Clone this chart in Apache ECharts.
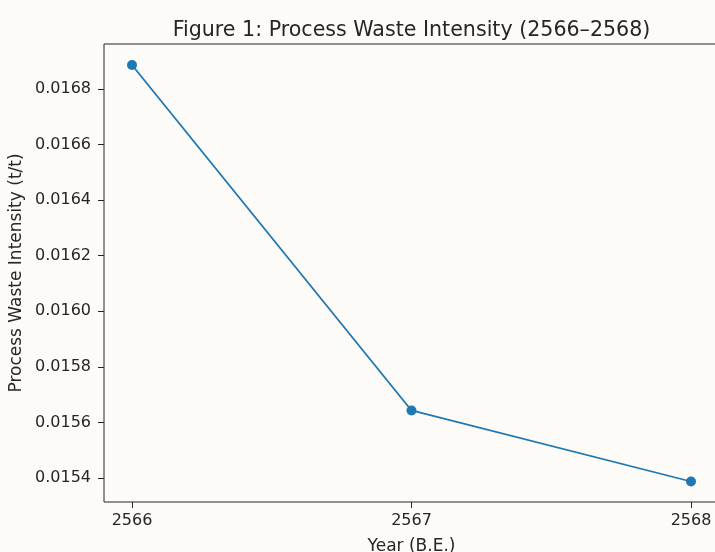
<!DOCTYPE html>
<html>
<head>
<meta charset="utf-8">
<script src="https://cdn.jsdelivr.net/npm/echarts@6/dist/echarts.min.js"></script>
<style>
  html, body { margin: 0; padding: 0; background: #fdfbf7; }
  #chart { width: 715px; height: 552px; }
</style>
</head>
<body>
<div id="chart"></div>
<script>
// ---- data ----
const years = [2566, 2567, 2568];
const intensity = [0.0168865, 0.015643, 0.0153874];
const yTickMin = 0.0154, yTickMax = 0.0168, yTickStep = 0.0002;
const xTickMin = 2566, xTickMax = 2568, xTickStep = 1;
const titleText = 'Figure 1: Process Waste Intensity (2566\u20132568)';
const xName = 'Year (B.E.)';
const yName = 'Process Waste Intensity (t/t)';

const FONT = 'DejaVu Sans';
const INK = '#262626';

const chart = echarts.init(document.getElementById('chart'), null, { renderer: 'canvas' });
chart.setOption({
  backgroundColor: '#fdfbf7',
  animation: false,
  title: {
    text: titleText,
    left: 406.5,
    top: 15,
    textAlign: 'center',
    textStyle: { fontFamily: FONT, fontSize: 20.6, fontWeight: 'normal', color: INK }
  },
  grid: [
    // frame (axes box)
    { left: 104, top: 44, width: 615, height: 458, show: true, borderColor: INK, borderWidth: 1,
      backgroundColor: 'transparent', containLabel: false, outerBoundsMode: 'none' },
    // data / tick region
    { left: 132, top: 89, width: 559, height: 389, show: false, containLabel: false, outerBoundsMode: 'none' }
  ],
  xAxis: [
    {
      gridIndex: 0, type: 'value', min: 0, max: 1,
      axisLine: { show: false }, axisTick: { show: false }, axisLabel: { show: false }, splitLine: { show: false },
      name: xName, nameLocation: 'middle', nameGap: 36,
      nameTextStyle: { fontFamily: FONT, fontSize: 17, color: INK }
    },
    {
      gridIndex: 1, type: 'value', min: xTickMin, max: xTickMax, interval: xTickStep,
      offset: 24,
      axisLine: { show: false },
      axisTick: { show: true, inside: false, length: 6, lineStyle: { color: INK, width: 1 } },
      axisLabel: { margin: 11, fontFamily: FONT, fontSize: 16, color: INK, formatter: v => String(v) },
      splitLine: { show: false }
    }
  ],
  yAxis: [
    {
      gridIndex: 0, type: 'value', min: 0, max: 1,
      axisLine: { show: false }, axisTick: { show: false }, axisLabel: { show: false }, splitLine: { show: false },
      name: yName, nameLocation: 'middle', nameGap: 79, nameRotate: 90,
      nameTextStyle: { fontFamily: FONT, fontSize: 17, color: INK }
    },
    {
      gridIndex: 1, type: 'value', min: yTickMin, max: yTickMax, interval: yTickStep,
      offset: 28,
      axisLine: { show: false },
      axisTick: { show: true, inside: false, length: 6, lineStyle: { color: INK, width: 1 } },
      axisLabel: { margin: 13, fontFamily: FONT, fontSize: 16, color: INK, formatter: v => v.toFixed(4) },
      splitLine: { show: false }
    }
  ],
  series: [{
    type: 'line',
    xAxisIndex: 1, yAxisIndex: 1,
    data: years.map((y, i) => [y, intensity[i]]),
    clip: false,
    symbol: 'circle',
    symbolSize: 10,
    itemStyle: { color: '#1f77b4' },
    lineStyle: { color: '#1f77b4', width: 1.8 }
  }]
});
</script>
</body>
</html>
